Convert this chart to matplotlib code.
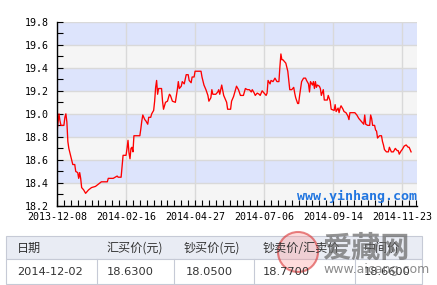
import matplotlib.pyplot as plt
import matplotlib.dates as mdates
from matplotlib.patches import Rectangle, Circle
import pandas as pd
import numpy as np

plt.rcParams['font.family'] = ['Noto Sans CJK SC', 'DejaVu Sans']

# Datos (dias desde 2013-12-08, precio)
inicio = '2013-12-08'
dias = [0, 1, 2, 3, 4, 7, 8, 9, 10, 11, 12, 14, 16, 18, 19, 21, 22, 23, 24, 25,
        27, 29, 31, 32, 35, 39, 42, 45, 47, 51, 52, 57, 61, 62, 65, 66, 67, 70, 71, 72,
        73, 74, 75, 76, 77, 78, 80, 84, 85, 86, 87, 89, 90, 92, 93, 95, 96, 98, 99, 100,
        101, 102, 103, 106, 107, 108, 110, 112, 114, 115, 117,
        120, 122, 123, 124, 126, 127, 129, 131, 133, 134, 136, 137, 139, 140, 146, 147,
        149, 151, 153, 154, 156, 157, 158, 161, 163, 164, 165, 167, 169, 170, 172, 173,
        176, 177, 179, 181, 182, 184, 186, 189, 191, 193, 195, 197, 198, 200, 201, 203,
        205, 206, 208, 210, 212, 213, 214, 216, 217, 219, 221, 223, 225, 226, 227, 228,
        229, 231, 232, 234, 236, 238, 240, 241, 242, 244, 245,
        246, 248, 250, 252, 253, 255, 256, 257, 259, 260, 261, 262, 263, 264, 266, 267,
        268, 270, 271, 274, 275, 277, 278, 281, 282, 283, 285, 286, 287, 288, 290, 291,
        293, 295, 296, 297, 301, 302, 304, 306, 308, 310, 311, 312, 313, 315, 317, 318,
        319, 320, 322, 323, 324, 325, 327, 329, 330, 331, 332, 334, 336, 337, 339, 341,
        343, 345, 346, 347, 349, 350, 352, 354, 356, 357, 359]
precio = [18.84, 18.92, 19.00, 18.94, 18.90, 18.90, 18.97, 19.00, 18.93, 18.76, 18.70, 18.63,
          18.56, 18.56, 18.50, 18.49, 18.44, 18.49, 18.44, 18.36, 18.34, 18.31, 18.33, 18.34,
          18.36, 18.37, 18.39, 18.41, 18.41, 18.41, 18.44, 18.44, 18.46, 18.45, 18.45, 18.54,
          18.64, 18.64, 18.70, 18.77, 18.66, 18.61, 18.70, 18.71, 18.67, 18.81, 18.81, 18.81,
          18.87, 18.94, 18.99, 18.95, 18.94, 18.91, 18.97, 18.97, 19.00, 19.03, 19.11, 19.23,
          19.29, 19.17, 19.22, 19.22, 19.11, 19.04, 19.10, 19.11, 19.17, 19.16, 19.11,
          19.10, 19.21, 19.28, 19.22, 19.24, 19.28, 19.26, 19.34, 19.34, 19.29, 19.27, 19.32,
          19.32, 19.37, 19.37, 19.32, 19.25, 19.21, 19.16, 19.11, 19.14, 19.21, 19.17, 19.17,
          19.19, 19.21, 19.17, 19.25, 19.16, 19.14, 19.10, 19.04, 19.04, 19.11, 19.15, 19.21,
          19.24, 19.21, 19.16, 19.16, 19.22, 19.21, 19.21, 19.19, 19.21, 19.18, 19.16, 19.18,
          19.17, 19.16, 19.20, 19.18, 19.16, 19.18, 19.29, 19.26, 19.29, 19.28, 19.31, 19.28,
          19.28, 19.41, 19.52, 19.47, 19.47, 19.45, 19.44, 19.37, 19.21, 19.21, 19.23, 19.18,
          19.14, 19.09, 19.09,
          19.16, 19.28, 19.31, 19.31, 19.29, 19.26, 19.19, 19.28, 19.25, 19.28, 19.22, 19.28,
          19.23, 19.25, 19.24, 19.22, 19.16, 19.21, 19.12, 19.12, 19.16, 19.11, 19.04, 19.03,
          19.08, 19.02, 19.05, 19.01, 19.05, 19.07, 19.04, 19.02, 19.01, 18.98, 18.95, 19.01,
          19.01, 19.01, 18.99, 18.96, 18.94, 18.92, 18.91, 18.99, 18.91, 18.90, 18.90, 18.99,
          18.96, 18.90, 18.90, 18.86, 18.85, 18.79, 18.81, 18.81, 18.76, 18.73, 18.69, 18.67,
          18.67, 18.71, 18.67, 18.67, 18.70, 18.68, 18.68, 18.65, 18.68, 18.69, 18.72, 18.73,
          18.71, 18.71, 18.67]

etiquetas_x = ['2013-12-08', '2014-02-16', '2014-04-27', '2014-07-06', '2014-09-14', '2014-11-23']
etiquetas_y = [18.2, 18.4, 18.6, 18.8, 19.0, 19.2, 19.4, 19.6, 19.8]

cabecera = ['日期', '汇买价(元)', '钞买价(元)', '钞卖价/汇卖价', '中间价']
fila = ['2014-12-02', '18.6300', '18.0500', '18.7700', '18.6600']

fechas = pd.Timestamp(inicio) + pd.to_timedelta(dias, unit='D')

fig = plt.figure(figsize=(4.37, 2.85), dpi=100)
W, H = 437, 285
ax = fig.add_axes([57 / W, 1 - 206 / H, 360 / W, 184.3 / H])

# Franjas de fondo
for i in range(len(etiquetas_y) - 1):
    color = '#f5f5f5' if i % 2 == 0 else '#dde4fc'
    ax.axhspan(etiquetas_y[i], etiquetas_y[i + 1], color=color, lw=0, zorder=0)

ax.plot(fechas, precio, color='red', lw=0.95, zorder=3)

ax.set_xlim(pd.Timestamp(inicio), pd.Timestamp(inicio) + pd.Timedelta(days=365))
ax.set_ylim(18.2, 19.8)

ax.set_xticks(pd.to_datetime(etiquetas_x))
ax.set_xticklabels(etiquetas_x)
ax.set_xticks(pd.date_range(inicio, periods=53, freq='7D'), minor=True)
ax.set_yticks(etiquetas_y)
ax.set_yticklabels(['%.1f' % v for v in etiquetas_y])
ax.set_yticks(np.arange(18.3, 19.8, 0.2), minor=True)

ax.grid(True, color='#d9d9d9', lw=1.0, zorder=1)
ax.set_axisbelow(True)
ax.tick_params(which='both', direction='in', length=4, width=0.8, color='black')
ax.tick_params(axis='y', pad=6)
ax.tick_params(axis='x', pad=4)
for lab in ax.get_xticklabels() + ax.get_yticklabels():
    lab.set_family('DejaVu Sans Mono')
    lab.set_fontsize(7.2)

for s in ['top', 'right']:
    ax.spines[s].set_visible(False)
for s in ['left', 'bottom']:
    ax.spines[s].set_linewidth(1.0)
    ax.spines[s].set_zorder(4)

ax.text(1.0, 0.052, 'www.yinhang.com', transform=ax.transAxes, ha='right', va='center',
        color='#2276e0', fontsize=9.6, fontweight='bold', family='DejaVu Sans Mono', zorder=5)

# Tabla debajo del grafico (coordenadas en pixeles)
at = fig.add_axes([0, 0, 1, 1])
at.set_xlim(0, W)
at.set_ylim(H, 0)
at.axis('off')

at.add_patch(Rectangle((6, 236), 416, 23, fc='#e9ecf4', ec='#c6cad6', lw=0.8))
at.add_patch(Rectangle((6, 259), 416, 25, fc='white', ec='#c6cad6', lw=0.8))
for xc in [97, 174, 254, 355]:
    at.plot([xc, xc], [259, 284], color='#c6cad6', lw=0.8)

x_cab = [17, 106, 184, 263, 364]
x_fila = [17, 107, 186, 263, 364]
for xc, t in zip(x_cab, cabecera):
    at.text(xc, 248, t, fontsize=8.7, color='#333333', va='center', ha='left')
for xc, t in zip(x_fila, fila):
    at.text(xc, 272, t, fontsize=8.2, color='#333333', va='center', ha='left', family='DejaVu Sans')

# Marca de agua
at.add_patch(Circle((298, 252), 20, fc=(1, 0.55, 0.55, 0.3), ec=(0.85, 0.2, 0.2, 0.6), lw=1.5))
at.text(322, 248, '爱藏网', fontsize=21, color='#666666', alpha=0.7, va='center', ha='left',
        fontweight='bold')
at.text(323, 270, 'www.aicang.com', fontsize=9, color='#666666', alpha=0.75, va='center', ha='left',
        family='DejaVu Sans')

fig.savefig('out.png', dpi=100)
